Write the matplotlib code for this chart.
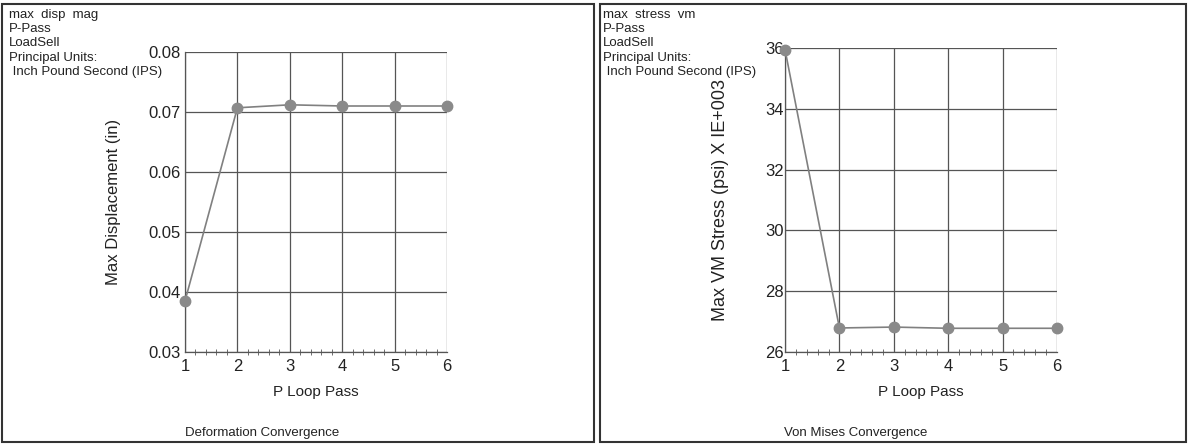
import matplotlib.pyplot as plt
from matplotlib.patches import Rectangle
from matplotlib.ticker import AutoMinorLocator

# data
passes = [1, 2, 3, 4, 5, 6]
disp = [0.0385, 0.0707, 0.0712, 0.0710, 0.0710, 0.0710]
stress = [35.95, 26.79, 26.82, 26.78, 26.78, 26.78]

disp_ticks = [0.03, 0.04, 0.05, 0.06, 0.07, 0.08]
disp_labels = ['0.03', '0.04', '0.05', '0.06', '0.07', '0.08']
stress_ticks = [26, 28, 30, 32, 34, 36]

header_left = ['max  disp  mag', 'P-Pass', 'LoadSell', 'Principal Units:', ' Inch Pound Second (IPS)']
header_right = ['max  stress  vm', 'P-Pass', 'LoadSell', 'Principal Units:', ' Inch Pound Second (IPS)']

plt.rcParams['font.family'] = ['Liberation Sans', 'DejaVu Sans']
W, H = 1188, 444
fig = plt.figure(figsize=(W / 100, H / 100), dpi=100)


# panel frames (pixels -> figure fraction)
def frame(x0, y0, x1, y1):
    fig.patches.append(Rectangle((x0 / W, 1 - y1 / H), (x1 - x0) / W, (y1 - y0) / H,
                                 transform=fig.transFigure, fill=False,
                                 edgecolor='#333333', linewidth=1.5))


frame(2, 4, 594, 442)
frame(600, 4, 1186, 442)


def make_axes(px0, py0, px1, py1):
    return fig.add_axes([px0 / W, 1 - py1 / H, (px1 - px0) / W, (py1 - py0) / H])


def style(ax, ylabel, yticks, ylabels, ysize, ypad, tpad):
    ax.set_xlim(1, 6)
    ax.set_xticks(passes)
    ax.set_yticks(yticks)
    ax.set_yticklabels(ylabels)
    ax.set_ylim(yticks[0], yticks[-1])
    ax.xaxis.set_minor_locator(AutoMinorLocator(5))
    ax.tick_params(axis='x', which='minor', direction='inout', length=5, color='#555555')
    ax.tick_params(axis='x', which='major', length=0, labelsize=12, pad=5, colors='#222222')
    ax.tick_params(axis='y', which='major', length=0, labelsize=12, pad=tpad, colors='#222222')
    ax.grid(True, which='major', color='#555555', linewidth=0.9)
    for s in ax.spines.values():
        s.set_color('#555555')
        s.set_linewidth(0.9)
    ax.spines['top'].set_visible(False)
    ax.spines['right'].set_visible(False)
    ax.set_xlabel('P Loop Pass', fontsize=11, labelpad=8, color='#222222')
    ax.set_ylabel(ylabel, fontsize=ysize, labelpad=ypad, color='#222222')


ax1 = make_axes(185, 52, 447, 352)
ax1.plot(passes, disp, color='#808080', linewidth=1.2, marker='o',
         markersize=7.5, markerfacecolor='#8a8a8a', markeredgecolor='#8a8a8a', clip_on=False, zorder=3)
style(ax1, 'Max Displacement (in)', disp_ticks, disp_labels, 12, 20, 3)

ax2 = make_axes(785, 48, 1057, 352)
ax2.plot(passes, stress, color='#808080', linewidth=1.2, marker='o',
         markersize=7.5, markerfacecolor='#8a8a8a', markeredgecolor='#8a8a8a', clip_on=False, zorder=3)
style(ax2, 'Max VM Stress (psi) X IE+003', stress_ticks, [str(t) for t in stress_ticks], 13, 26, 1)

# header blocks, one text per line
for x0, lines in [(9, header_left), (603, header_right)]:
    for i, line in enumerate(lines):
        fig.text(x0 / W, 1 - (18 + 14.2 * i) / H, line, fontsize=9.5, va='baseline',
                 ha='left', color='#222222')

fig.text(185 / W, 1 - 436 / H, 'Deformation Convergence', fontsize=9.5, ha='left', va='baseline', color='#222222')
fig.text(784 / W, 1 - 436 / H, 'Von Mises Convergence', fontsize=9.5, ha='left', va='baseline', color='#222222')

fig.savefig('out.png', dpi=100, facecolor='white')
